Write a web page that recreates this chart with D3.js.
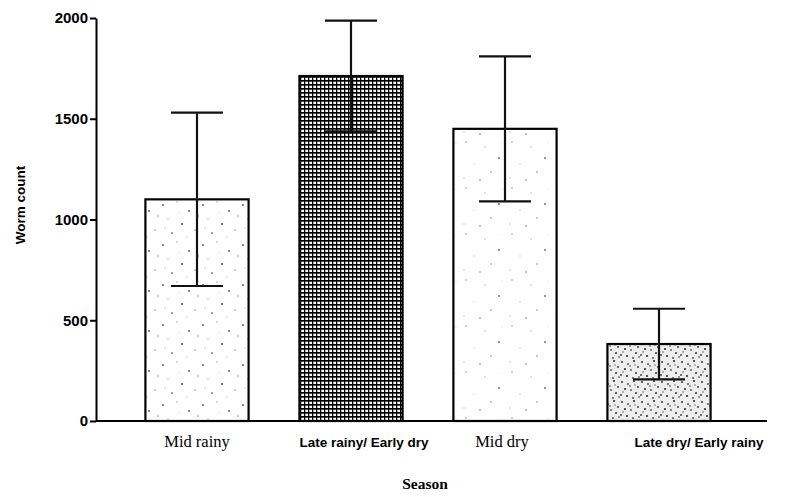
<!DOCTYPE html>
<html>
<head>
<meta charset="utf-8">
<script src="https://cdn.jsdelivr.net/npm/d3@7"></script>
<style>
  body { margin: 0; background: #fff; }
  svg { display: block; }
</style>
</head>
<body>
<div class="chart"></div>
<script>
// Data
let seasons = ["Mid rainy", "Late rainy/ Early dry", "Mid dry", "Late dry/ Early rainy"];
let wormMeans = [1100, 1712, 1450, 382];
let wormErrors = [430, 275, 360, 175];
let yTicks = [0, 500, 1000, 1500, 2000];

let svgWidth = 789;
let svgHeight = 497;

let svg = d3.select(".chart").append("svg")
  .attr("width", svgWidth)
  .attr("height", svgHeight);

// Scales
let xScale = d3.scaleBand()
  .domain(seasons)
  .range([120, 736])
  .paddingInner(0.33)
  .paddingOuter(0.165);

let yScale = d3.scaleLinear()
  .domain([0, 2000])
  .range([421, 18]);

// Fill patterns (textures only)
let defs = svg.append("defs");

// sparse speckle
let sparse = defs.append("pattern")
  .attr("id", "sparse")
  .attr("patternUnits", "userSpaceOnUse")
  .attr("width", 40).attr("height", 40);
sparse.append("rect").attr("width", 40).attr("height", 40).attr("fill", "#fff");
[[3, 5, 0.9, "#555"], [17, 2, 0.8, "#aaa"], [29, 11, 1, "#666"], [8, 19, 0.8, "#bbb"],
 [22, 24, 1, "#444"], [35, 30, 0.8, "#999"], [12, 33, 0.9, "#777"], [27, 37, 0.7, "#ccc"],
 [38, 16, 0.8, "#888"], [5, 28, 0.7, "#ccc"], [19, 13, 0.7, "#ddd"]]
  .forEach(d => sparse.append("circle").attr("cx", d[0]).attr("cy", d[1]).attr("r", d[2]).attr("fill", d[3]));

// lighter sparse speckle for the third bar
let light = defs.append("pattern")
  .attr("id", "light")
  .attr("patternUnits", "userSpaceOnUse")
  .attr("width", 46).attr("height", 46);
light.append("rect").attr("width", 46).attr("height", 46).attr("fill", "#fff");
[[6, 4, 0.8, "#999"], [25, 9, 0.7, "#bbb"], [39, 20, 0.9, "#666"], [14, 26, 0.7, "#ccc"],
 [31, 34, 0.8, "#888"], [4, 40, 0.7, "#bbb"], [20, 42, 0.8, "#777"], [42, 5, 0.6, "#ddd"]]
  .forEach(d => light.append("circle").attr("cx", d[0]).attr("cy", d[1]).attr("r", d[2]).attr("fill", d[3]));

// dense dots
let dense = defs.append("pattern")
  .attr("id", "dense")
  .attr("patternUnits", "userSpaceOnUse")
  .attr("width", 20).attr("height", 20);
dense.append("rect").attr("width", 20).attr("height", 20).attr("fill", "#eee");
[[2, 2, "#333"], [8, 4, "#555"], [14, 1, "#222"], [18, 7, "#444"], [5, 9, "#222"],
 [11, 10, "#666"], [16, 13, "#333"], [1, 15, "#444"], [7, 16, "#222"], [13, 18, "#555"],
 [19, 17, "#777"], [10, 6, "#888"], [3, 12, "#999"], [15, 5, "#aaa"]]
  .forEach(d => dense.append("circle").attr("cx", d[0]).attr("cy", d[1]).attr("r", 1).attr("fill", d[2]));

// dense grid
let grid = defs.append("pattern")
  .attr("id", "grid")
  .attr("patternUnits", "userSpaceOnUse")
  .attr("width", 4).attr("height", 4);
grid.append("rect").attr("width", 4).attr("height", 4).attr("fill", "#000");
grid.append("rect").attr("x", 1.3).attr("y", 1.7).attr("width", 2.7).attr("height", 2.3).attr("fill", "#fff");

let fills = ["url(#sparse)", "url(#grid)", "url(#light)", "url(#dense)"];

// Bars
svg.selectAll("rect.bar")
  .data(seasons)
  .enter()
  .append("rect")
  .attr("class", "bar")
  .attr("x", d => xScale(d))
  .attr("y", (d, i) => yScale(wormMeans[i]))
  .attr("width", xScale.bandwidth())
  .attr("height", (d, i) => yScale(0) - yScale(wormMeans[i]))
  .attr("fill", (d, i) => fills[i])
  .attr("stroke", "#000")
  .attr("stroke-width", 2.2);

// Error bars
let capHalf = 26;
let errGroup = svg.append("g").attr("stroke", "#111").attr("stroke-width", 2.2);
seasons.forEach(function(s, i) {
  let cx = xScale(s) + xScale.bandwidth() / 2;
  let hi = yScale(wormMeans[i] + wormErrors[i]);
  let lo = yScale(wormMeans[i] - wormErrors[i]);
  errGroup.append("line").attr("x1", cx).attr("x2", cx).attr("y1", hi).attr("y2", lo);
  errGroup.append("line").attr("x1", cx - capHalf).attr("x2", cx + capHalf).attr("y1", hi).attr("y2", hi);
  errGroup.append("line").attr("x1", cx - capHalf).attr("x2", cx + capHalf).attr("y1", lo).attr("y2", lo);
});

// Y axis
let leftAxis = d3.axisLeft(yScale)
  .tickValues(yTicks)
  .tickFormat(d3.format("d"))
  .tickSize(6).tickSizeOuter(0).tickPadding(2);
let yAxisG = svg.append("g")
  .attr("transform", "translate(96,0)")
  .call(leftAxis);
yAxisG.select(".domain").attr("stroke", "#000").attr("stroke-width", 2);
yAxisG.selectAll(".tick line").attr("stroke", "#000").attr("stroke-width", 2);
yAxisG.selectAll(".tick text")
  .attr("font-family", "'Liberation Sans', Arial, sans-serif")
  .attr("font-weight", "bold")
  .attr("font-size", 15)
  .attr("fill", "#000");

// X baseline
svg.append("line")
  .attr("x1", 96).attr("x2", 767)
  .attr("y1", yScale(0)).attr("y2", yScale(0))
  .attr("stroke", "#000").attr("stroke-width", 2);

// Category labels (mixed fonts as in the scan)
let labelStyle = [
  { dx: 0, font: "'Liberation Serif', 'Times New Roman', serif", weight: "normal", size: 16.5 },
  { dx: 13, font: "'Liberation Sans', Arial, sans-serif", weight: "bold", size: 13.5 },
  { dx: -3, font: "'Liberation Serif', 'Times New Roman', serif", weight: "normal", size: 16.5 },
  { dx: 40, font: "'Liberation Sans', Arial, sans-serif", weight: "bold", size: 13.5 }
];
svg.selectAll("text.cat")
  .data(seasons)
  .enter()
  .append("text")
  .attr("class", "cat")
  .attr("x", (d, i) => xScale(d) + xScale.bandwidth() / 2 + labelStyle[i].dx)
  .attr("y", 447)
  .attr("text-anchor", "middle")
  .attr("font-family", (d, i) => labelStyle[i].font)
  .attr("font-weight", (d, i) => labelStyle[i].weight)
  .attr("font-size", (d, i) => labelStyle[i].size)
  .attr("fill", "#000")
  .text(d => d);

// Axis titles
svg.append("text")
  .attr("x", 425)
  .attr("y", 489)
  .attr("text-anchor", "middle")
  .attr("font-family", "'Liberation Serif', 'Times New Roman', serif")
  .attr("font-weight", "bold")
  .attr("font-size", 15.5)
  .attr("fill", "#000")
  .text("Season");

svg.append("text")
  .attr("transform", "translate(25,205) rotate(-90)")
  .attr("text-anchor", "middle")
  .attr("font-family", "'Liberation Sans', Arial, sans-serif")
  .attr("font-weight", "bold")
  .attr("font-size", 13.5)
  .attr("fill", "#000")
  .text("Worm count");
</script>
</body>
</html>
